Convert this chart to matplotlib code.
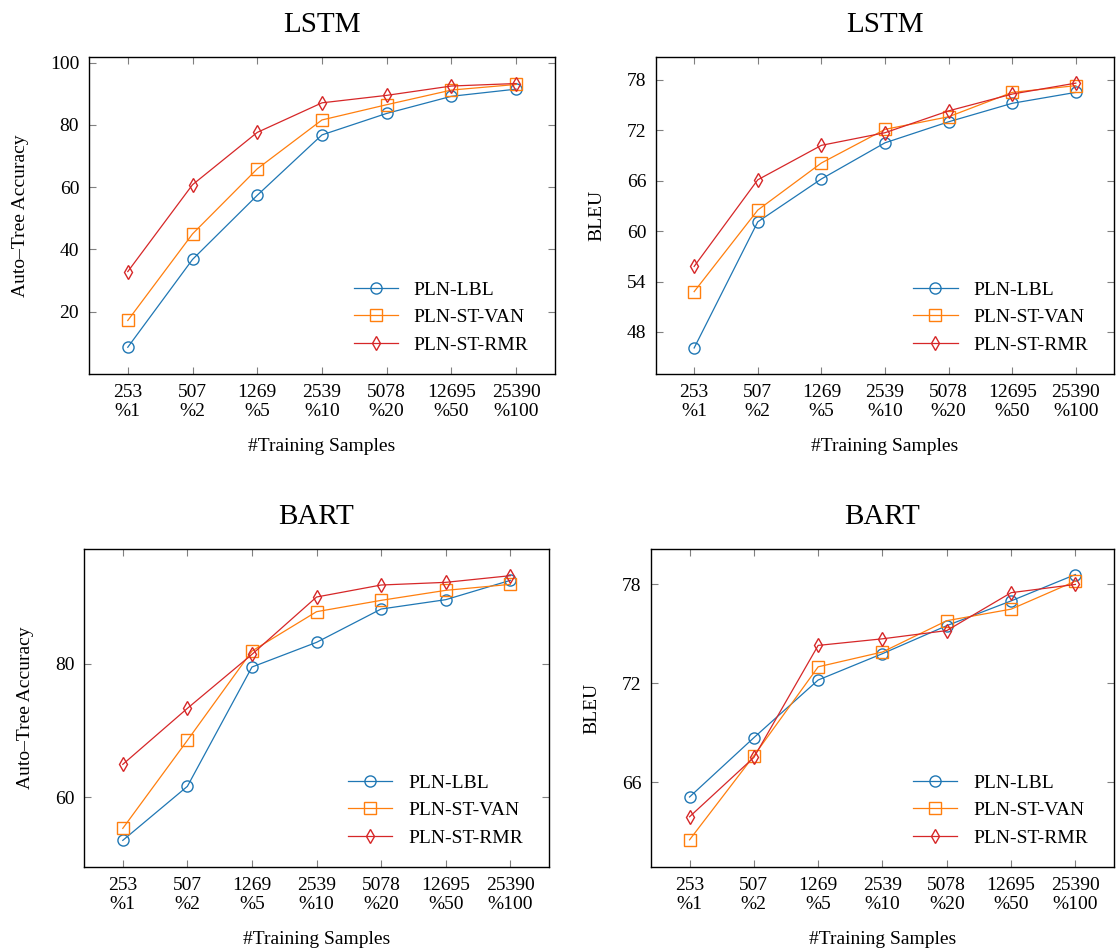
import numpy as np
import matplotlib
matplotlib.use('Agg')
import matplotlib.pyplot as plt

plt.rcParams['font.family'] = ['Liberation Serif', 'DejaVu Serif']

# x axis (categorical)
samples = ['253', '507', '1269', '2539', '5078', '12695', '25390']
percents = ['%1', '%2', '%5', '%10', '%20', '%50', '%100']
tick_labels = [s + '\n' + p for s, p in zip(samples, percents)]

series_names = ['PLN-LBL', 'PLN-ST-VAN', 'PLN-ST-RMR']

# LSTM - Auto-Tree Accuracy
lstm_acc_lbl = [8.6, 36.8, 57.4, 76.8, 83.7, 89.2, 91.5]
lstm_acc_van = [17.2, 45.0, 65.9, 81.6, 86.5, 91.2, 93.0]
lstm_acc_rmr = [32.9, 60.8, 77.6, 87.1, 89.5, 92.5, 93.3]

# LSTM - BLEU
lstm_bleu_lbl = [46.1, 61.1, 66.2, 70.5, 73.0, 75.2, 76.5]
lstm_bleu_van = [52.8, 62.5, 68.1, 72.1, 73.6, 76.5, 77.3]
lstm_bleu_rmr = [55.8, 66.1, 70.2, 71.7, 74.3, 76.3, 77.6]

# BART - Auto-Tree Accuracy
bart_acc_lbl = [53.5, 61.6, 79.5, 83.2, 88.2, 89.6, 92.5]
bart_acc_van = [55.3, 68.5, 81.9, 87.8, 89.5, 91.0, 91.9]
bart_acc_rmr = [64.9, 73.3, 81.4, 90.0, 91.8, 92.2, 93.2]

# BART - BLEU
bart_bleu_lbl = [65.1, 68.7, 72.2, 73.8, 75.5, 77.0, 78.6]
bart_bleu_van = [62.5, 67.6, 73.0, 73.9, 75.8, 76.5, 78.2]
bart_bleu_rmr = [63.9, 67.5, 74.3, 74.7, 75.2, 77.5, 78.0]

colors = ['#1f77b4', '#ff7f0e', '#d62728']
markers = ['o', 's', 'd']
msizes = [8, 8, 7.5]

fs = 14

fig = plt.figure(figsize=(11.16, 9.51), dpi=100)

# axes positions [left, bottom, width, height] in figure fractions
panels = [
    ([0.0797, 0.6067, 0.4176, 0.3333], 'LSTM', 'Auto\u2013Tree Accuracy',
     [lstm_acc_lbl, lstm_acc_van, lstm_acc_rmr], (0, 101.8), [20, 40, 60, 80, 100]),
    ([0.5878, 0.6067, 0.4104, 0.3333], 'LSTM', 'BLEU',
     [lstm_bleu_lbl, lstm_bleu_van, lstm_bleu_rmr], (43.0, 80.7), [48, 54, 60, 66, 72, 78]),
    ([0.0753, 0.0883, 0.4167, 0.3344], 'BART', 'Auto\u2013Tree Accuracy',
     [bart_acc_lbl, bart_acc_van, bart_acc_rmr], (49.5, 97.2), [60, 80]),
    ([0.5833, 0.0883, 0.4149, 0.3344], 'BART', 'BLEU',
     [bart_bleu_lbl, bart_bleu_van, bart_bleu_rmr], (60.85, 80.15), [66, 72, 78]),
]

x = np.arange(len(samples))

for pos, title, ylabel, data, ylim, yticks in panels:
    ax = fig.add_axes(pos)
    for vals, name, c, m, ms in zip(data, series_names, colors, markers, msizes):
        ax.plot(x, vals, color=c, marker=m, markersize=ms, markerfacecolor='none',
                markeredgecolor=c, markeredgewidth=1.0, linewidth=0.9, label=name)
    ax.set_xlim(-0.6, 6.6)
    ax.set_ylim(*ylim)
    ax.set_xticks(x)
    ax.set_xticklabels(tick_labels, fontsize=fs)
    ax.set_yticks(yticks)
    ax.tick_params(axis='y', labelsize=fs)
    # pgfplots style ticks: inward, gray, on all sides
    ax.tick_params(direction='in', top=True, right=True, length=5, width=0.8,
                   color='#808080', pad=7)
    for sp in ax.spines.values():
        sp.set_linewidth(1.0)
    ax.set_title(title, fontsize=21, pad=18)
    ax.set_ylabel(ylabel, fontsize=fs, labelpad=15)
    ax.set_xlabel('#Training Samples', fontsize=fs, labelpad=13)
    ax.legend(loc='lower right', bbox_to_anchor=(0.96, 0.04), frameon=False,
              fontsize=fs, handlelength=2.3, borderaxespad=0.0, labelspacing=0.5)

plt.savefig('out.png', dpi=100)
